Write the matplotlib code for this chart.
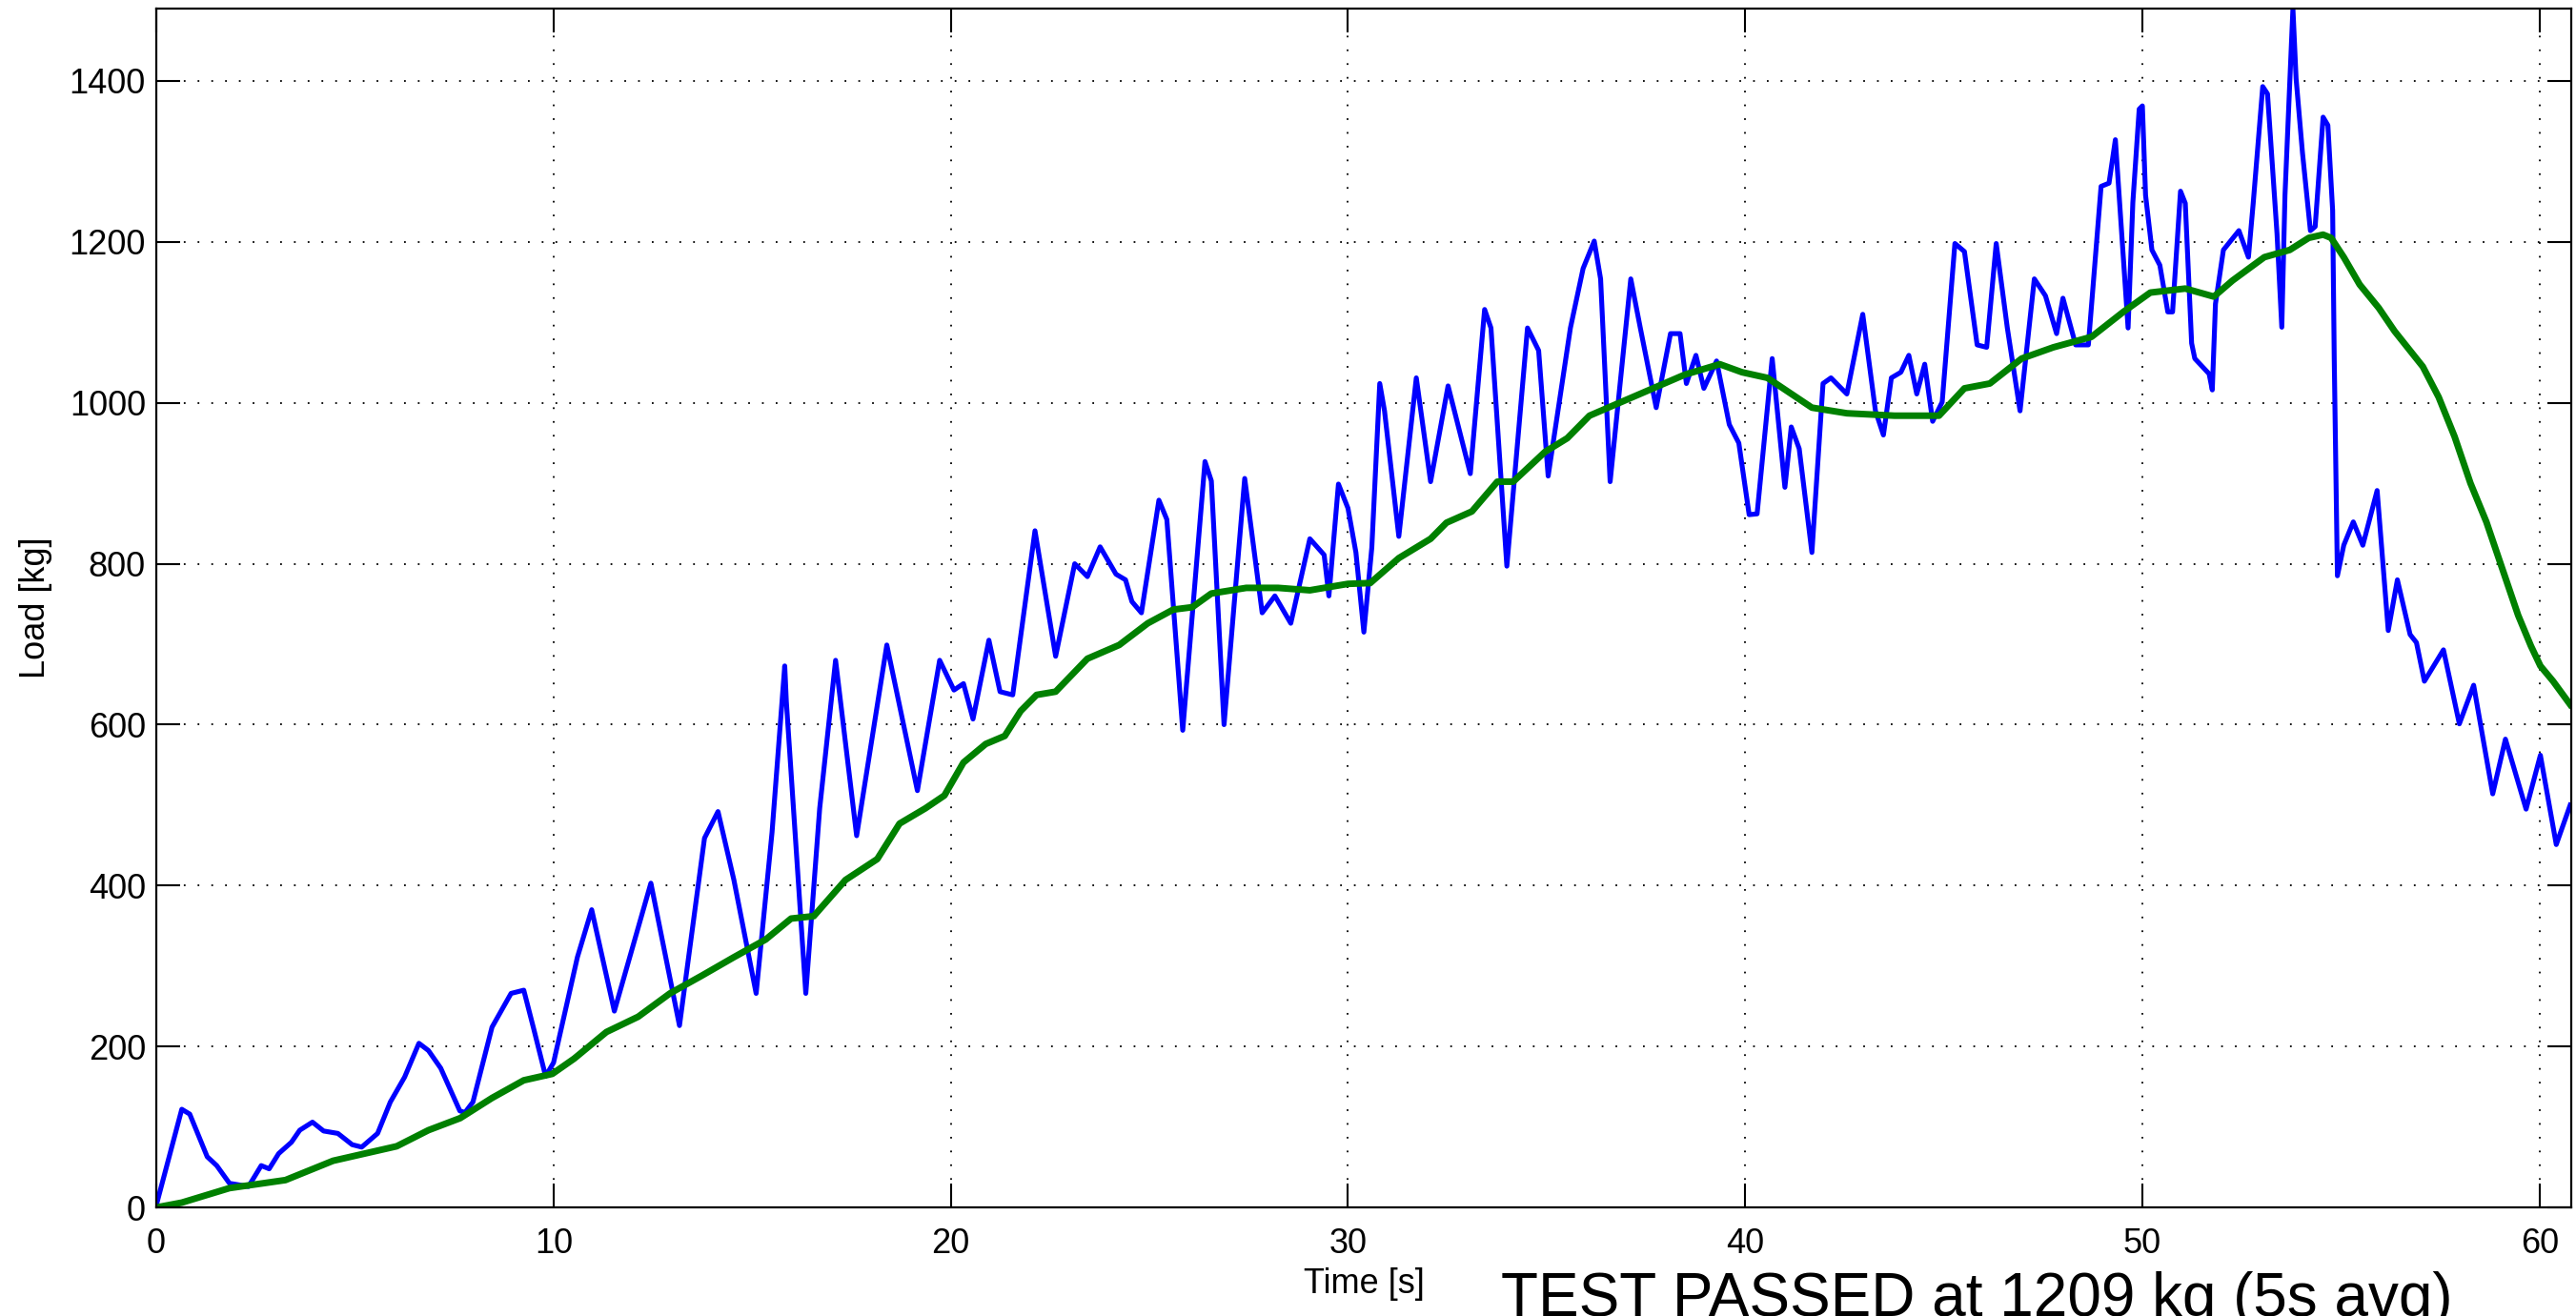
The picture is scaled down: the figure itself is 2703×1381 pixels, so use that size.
#!/usr/bin/env python3
"""
Load test plot: raw load cell signal + 5 s moving average.
Values read by eye off the original chart.
"""

import matplotlib
matplotlib.use('Agg')
import matplotlib.pyplot as plt

# Raw load signal (blue)
raw_t = [0.0, 0.64, 0.84, 1.28, 1.52, 1.84, 2.32, 2.64, 2.84, 3.08, 3.40, 3.61, 3.93,
         4.21, 4.57, 4.93, 5.17, 5.57, 5.89, 6.25, 6.61, 6.85, 7.16, 7.64, 7.77, 7.97,
         8.45, 8.93, 9.25, 9.50, 9.80, 10.0, 10.6, 10.96, 11.53, 12.45, 13.17, 13.8,
         14.14, 14.54, 15.1, 15.5, 15.82, 15.86, 16.35, 16.7, 17.1, 17.63, 18.39, 19.16,
         19.72, 20.08, 20.32, 20.56, 20.96, 21.24, 21.56, 22.12, 22.64, 23.12, 23.44,
         23.76, 24.16, 24.4, 24.56, 24.8, 25.24, 25.44, 25.84, 26.4, 26.56, 26.88, 27.4,
         27.84, 28.16, 28.56, 29.04, 29.4, 29.52, 29.76, 30.0, 30.2, 30.4, 30.6, 30.8,
         30.92, 31.28, 31.72, 32.08, 32.52, 33.08, 33.44, 33.6, 34.0, 34.52, 34.8, 35.04,
         35.6, 35.92, 36.2, 36.36, 36.6, 37.12, 37.36, 37.76, 38.12, 38.36, 38.52, 38.76,
         38.96, 39.28, 39.6, 39.84, 40.1, 40.3, 40.68, 41.0, 41.16, 41.36, 41.68, 41.96,
         42.16, 42.56, 42.96, 43.28, 43.48, 43.68, 43.92, 44.12, 44.32, 44.52, 44.72,
         44.96, 45.28, 45.52, 45.84, 46.08, 46.32, 46.6, 46.92, 47.28, 47.56, 47.84, 48.0,
         48.32, 48.64, 48.96, 49.16, 49.32, 49.64, 49.76, 49.92, 50.0, 50.08, 50.24,
         50.44, 50.64, 50.76, 50.96, 51.08, 51.24, 51.32, 51.68, 51.76, 51.84, 52.04,
         52.43, 52.67, 52.79, 53.03, 53.15, 53.39, 53.51, 53.59, 53.79, 53.87, 54.03,
         54.23, 54.35, 54.55, 54.67, 54.79, 54.83, 54.91, 55.07, 55.31, 55.55, 55.91,
         56.19, 56.42, 56.74, 56.9, 57.1, 57.58, 57.98, 58.34, 58.82, 59.14, 59.66, 60.02,
         60.42, 60.77]
raw_load = [3, 122, 116, 63, 52, 30, 26, 52, 48, 67, 81, 96, 106,
            95, 92, 78, 75, 92, 131, 162, 204, 195, 173, 120, 118, 131,
            224, 266, 270, 222, 163, 180, 311, 370, 244, 403, 226, 459,
            492, 407, 266, 466, 673, 629, 266, 496, 680, 462, 699, 518,
            680, 643, 651, 607, 705, 641, 637, 841, 685, 800, 784,
            821, 787, 780, 753, 739, 879, 855, 593, 927, 903, 600, 906,
            739, 760, 726, 831, 811, 760, 899, 869, 814, 715, 820, 1024,
            990, 834, 1031, 902, 1021, 912, 1116, 1093, 797, 1093, 1065, 909,
            1093, 1167, 1201, 1154, 902, 1154, 1093, 994, 1086, 1086, 1024, 1059,
            1018, 1052, 973, 950, 861, 862, 1055, 895, 970, 943, 814, 1024,
            1031, 1011, 1110, 990, 960, 1031, 1038, 1059, 1011, 1048, 977,
            1001, 1198, 1188, 1072, 1069, 1198, 1093, 990, 1154, 1133, 1086, 1130,
            1072, 1072, 1269, 1273, 1327, 1093, 1249, 1365, 1369, 1258, 1190,
            1171, 1113, 1113, 1263, 1248, 1074, 1055, 1036, 1016, 1123, 1190,
            1214, 1181, 1248, 1393, 1384, 1210, 1094, 1258, 1490, 1403, 1311,
            1214, 1219, 1355, 1345, 1239, 1055, 785, 823, 852, 823, 891,
            717, 780, 712, 702, 654, 693, 601, 649, 514, 582, 495, 562,
            451, 500]

# 5 s average (green)
avg_t = [0.0, 0.64, 1.84, 3.25, 4.45, 6.05, 6.85, 7.65, 8.45, 9.25, 9.97, 10.52, 11.33,
         12.13, 12.93, 13.73, 14.54, 15.34, 15.98, 16.55, 17.35, 18.15, 18.71, 19.36,
         19.84, 20.32, 20.88, 21.36, 21.76, 22.16, 22.64, 23.44, 24.24, 24.96, 25.6,
         26.08, 26.56, 27.44, 28.24, 29.04, 30.0, 30.56, 31.28, 32.08, 32.48, 33.12,
         33.76, 34.16, 34.96, 35.52, 36.08, 36.88, 37.68, 38.48, 39.36, 39.92, 40.56,
         41.68, 42.56, 43.76, 44.88, 45.52, 46.16, 46.96, 47.76, 48.72, 49.52, 50.2,
         51.08, 51.8, 52.27, 53.07, 53.71, 54.19, 54.55, 54.75, 55.07, 55.47, 55.95,
         56.35, 57.06, 57.46, 57.86, 58.26, 58.66, 59.06, 59.46, 59.78, 60.02, 60.34,
         60.77]
avg_load = [0, 6, 24, 34, 58, 76, 96, 111, 136, 158, 166, 185, 218,
            237, 266, 288, 311, 333, 359, 362, 407, 433, 477, 496,
            512, 553, 576, 586, 617, 637, 641, 682, 699, 726, 743,
            746, 763, 770, 770, 767, 775, 776, 807, 831, 851, 865,
            902, 902, 939, 956, 984, 1001, 1018, 1035, 1048, 1038, 1031,
            994, 987, 984, 984, 1018, 1024, 1055, 1069, 1082, 1113, 1137,
            1142, 1132, 1152, 1181, 1190, 1205, 1209, 1205, 1181, 1147, 1118,
            1089, 1045, 1007, 958, 900, 852, 794, 736, 698, 673, 654,
            625]

x_ticks = [0, 10, 20, 30, 40, 50, 60]
y_ticks = [0, 200, 400, 600, 800, 1000, 1200, 1400]
result_text = 'TEST PASSED at 1209 kg (5s avg)'

plt.rcParams['font.family'] = ['Liberation Sans', 'DejaVu Sans']

fig = plt.figure(figsize=(27.03, 13.81), dpi=100)
ax = fig.add_axes([0.0607, 0.0825, 0.9375, 0.911])

ax.plot(raw_t, raw_load, color=(0, 0, 1), linewidth=3.7)
ax.plot(avg_t, avg_load, color=(0, 0.5, 0), linewidth=5.0)

# matlab-ish look: tight axes, box, ticks inside, dotted grid
ax.set_xlim(0, 60.8)
ax.set_ylim(0, 1490)
ax.set_xticks(x_ticks)
ax.set_yticks(y_ticks)
ax.tick_params(direction='in', length=18, width=1.5, top=True, right=True,
               labelsize=26)
ax.tick_params(axis='x', pad=15)
ax.tick_params(axis='y', pad=8)
ax.grid(True, color='black', linestyle=(0, (1, 7)), linewidth=1.3)
for s in ax.spines.values():
    s.set_linewidth(1.6)

ax.set_xlabel('Time [s]', fontsize=26)
ax.set_ylabel('Load [kg]', fontsize=26)
ax.xaxis.set_label_coords(0.5, -0.050)
ax.yaxis.set_label_coords(-0.043, 0.5)

# result line: baseline on the bottom edge, as in the original screenshot
# (placing it higher would run into the x tick labels)
fig.text(1575 / 2703, 0.0, result_text, fontsize=46, ha='left', va='baseline')

fig.savefig('out.png', dpi=100)
